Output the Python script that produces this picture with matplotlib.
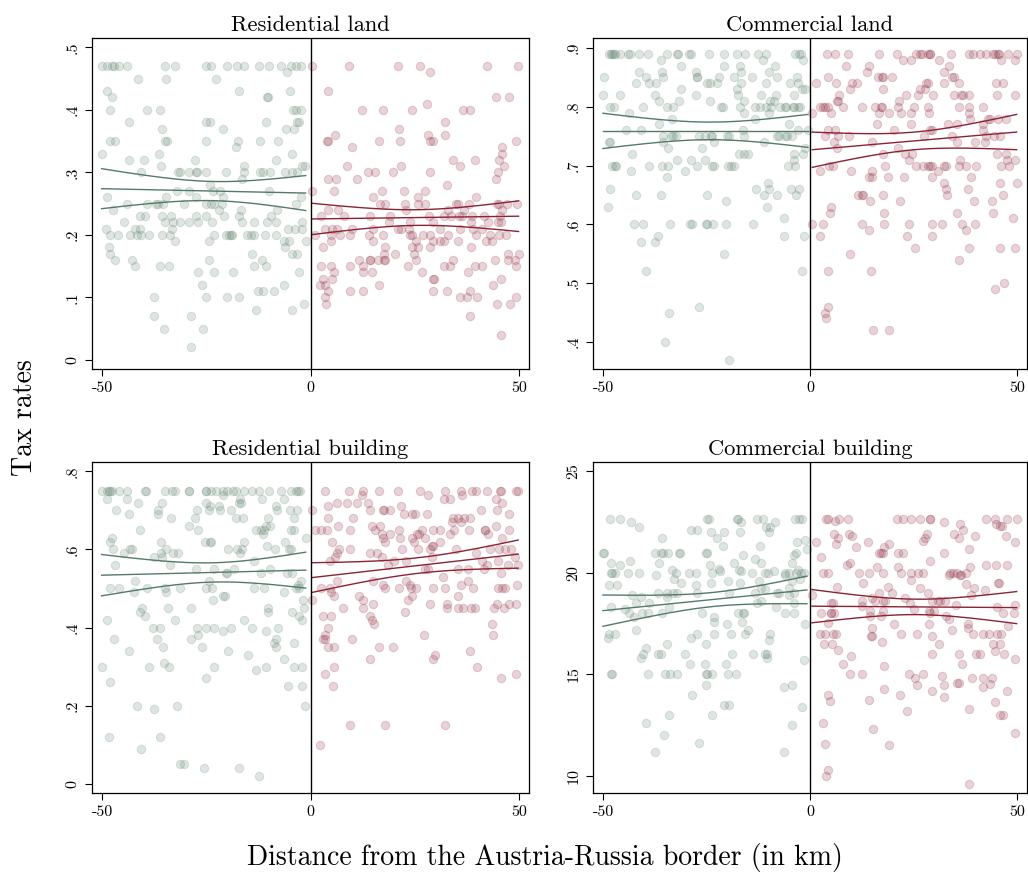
import numpy as np
import matplotlib
matplotlib.use("Agg")
import matplotlib.pyplot as plt

plt.rcParams['font.family'] = ['cmr10', 'DejaVu Serif']
plt.rcParams['mathtext.fontset'] = 'cm'
plt.rcParams['axes.unicode_minus'] = False
plt.rcParams['axes.formatter.use_mathtext'] = True

# ---------------- data: rows of (tax rate, [distances in km]) ----------------
res_land_west = [
    (0.47, [-50.0, -48.8, -47.6, -47.2, -46.0, -44.0, -34.8, -32.4, -25.2, -24.0, -20.0, -17.7, -15.9, -12.3, -10.1, -7.2, -4.7, -3.6, -2.4]),
    (0.46, [-5.7]),
    (0.45, [-41.4, -34.6, -22.6]),
    (0.43, [-48.7, -17.2, -5.0]),
    (0.42, [-47.6, -10.4, -10.2]),
    (0.40, [-48.0, -39.2, -36.1, -4.2, -3.6, -2.4]),
    (0.38, [-43.5, -25.1, -24.2, -10.8, -3.2, -2.8]),
    (0.37, [-35.6, -21.0, -6.0, -4.0]),
    (0.35, [-48.0, -46.8, -34.9, -34.4, -25.2, -17.4, -12.1, -7.8]),
    (0.34, [-17.8]),
    (0.33, [-50.1, -36.4, -4.6]),
    (0.32, [-43.5, -39.9, -27.7, -8.3]),
    (0.31, [-35.8, -16.0, -2.1, -1.4]),
    (0.30, [-40.6, -31.7, -31.2, -29.2, -27.4, -27.2, -25.2, -20.2, -16.1, -12.1, -11.4, -9.8, -6.2, -4.6, -3.2]),
    (0.29, [-16.4]),
    (0.28, [-24.2]),
    (0.27, [-32.0, -29.2, -23.3, -21.8, -10.1]),
    (0.26, [-48.7, -34.6, -27.6, -21.0, -2.4]),
    (0.25, [-44.0, -39.2, -37.0, -36.6, -35.4, -30.4, -25.2, -24.0, -23.2, -21.2, -3.6]),
    (0.24, [-47.4, -22.0, -16.8, -8.0]),
    (0.23, [-41.0, -39.7, -35.7, -33.5, -27.6, -25.2, -20.8, -17.2, -9.6]),
    (0.22, [-44.8, -34.8, -32.9, -31.2, -29.1, -27.1, -23.7, -16.4, -13.5, -10.4, -8.2, -2.0]),
    (0.21, [-49.0, -42.2, -41.0, -33.2, -5.5, -3.8, -2.0]),
    (0.20, [-48.2, -46.1, -43.2, -41.6, -40.6, -38.8, -35.7, -33.8, -23.2, -20.4, -19.6, -19.2, -18.8, -15.2, -14.3, -13.5, -10.9, -8.2]),
    (0.19, [-32.4, -24.4, -6.4, -5.2, -1.2]),
    (0.18, [-48.4, -6.2]),
    (0.17, [-48.1, -14.0, -4.4, -3.2]),
    (0.16, [-46.8, -42.8, -24.3, -11.6]),
    (0.15, [-42.2, -36.1, -34.0, -13.6, -10.8]),
    (0.14, [-26.9, -23.2, -18.5, -2.9]),
    (0.12, [-26.1, -6.5]),
    (0.11, [-12.6, -11.4, -8.9]),
    (0.10, [-37.5, -25.0, -20.0, -17.2]),
    (0.09, [-1.7]),
    (0.08, [-13.1, -4.4]),
    (0.07, [-37.6, -28.8]),
    (0.05, [-35.2, -25.7]),
    (0.02, [-28.8]),
]

res_land_east = [
    (0.47, [0.4, 9.1, 20.9, 26.3, 42.3, 49.7]),
    (0.46, [28.7]),
    (0.43, [4.2]),
    (0.42, [44.3, 47.4]),
    (0.41, [27.8]),
    (0.40, [12.4, 17.4, 24.2, 36.6, 38.2]),
    (0.38, [32.2]),
    (0.37, [21.2]),
    (0.36, [5.9, 28.2, 32.2]),
    (0.35, [4.0, 4.2, 16.3, 21.4, 28.6, 29.2, 49.3]),
    (0.34, [10.0, 45.8]),
    (0.33, [45.9]),
    (0.32, [34.2, 39.3, 45.1]),
    (0.31, [8.7, 21.6, 35.8, 46.2]),
    (0.30, [13.8, 15.5, 19.8, 28.5, 44.8]),
    (0.29, [4.2, 6.1, 11.0, 44.4]),
    (0.28, [32.6]),
    (0.27, [0.4, 5.5, 17.0, 22.4, 27.4]),
    (0.26, [14.9, 25.8, 39.6]),
    (0.25, [16.6, 17.9, 22.6, 25.6, 27.4, 34.7, 35.4, 38.0, 44.6, 45.0, 47.0, 49.4]),
    (0.24, [4.2, 6.5, 22.9, 33.0, 36.8, 45.9]),
    (0.23, [2.4, 7.9, 14.2, 19.0, 28.3, 32.0, 33.6, 35.6, 36.2, 38.6, 41.6, 45.3]),
    (0.22, [18.7, 23.8, 29.2, 38.5, 42.4, 44.8, 45.6]),
    (0.21, [3.4, 5.2, 6.2, 9.8, 15.0, 21.0, 21.7, 23.5, 31.0, 35.7, 38.9, 41.0]),
    (0.20, [1.1, 4.9, 6.9, 9.4, 13.9, 17.4, 23.8, 24.2, 27.0, 28.5, 32.8, 39.6, 42.9, 45.0, 46.8]),
    (0.19, [4.8, 15.0, 25.2, 29.2, 30.9, 31.9, 35.4, 41.9, 43.4]),
    (0.18, [3.0, 17.8, 24.2, 25.7, 28.7, 38.3]),
    (0.17, [17.6, 20.2, 24.7, 47.2, 49.8]),
    (0.16, [11.6, 14.1, 14.3, 16.2, 17.6, 17.9, 25.2, 34.2, 44.2, 47.3, 49.0]),
    (0.15, [2.5, 4.8, 9.5, 12.6, 23.4, 32.0, 33.4, 39.4, 41.0, 49.2]),
    (0.14, [5.6, 12.6, 14.6, 26.6, 37.6]),
    (0.13, [3.0, 5.0, 29.4, 29.6, 45.6]),
    (0.12, [2.3, 3.4, 16.3, 43.7]),
    (0.11, [4.2, 9.5, 12.6, 29.4, 32.7, 38.2]),
    (0.10, [3.4, 35.8, 37.5, 39.9, 49.3]),
    (0.09, [3.7, 44.6, 47.8]),
    (0.07, [38.2]),
    (0.04, [45.6]),
]

com_land_west = [
    (0.89, [-48.5, -48.0, -47.7, -47.4, -47.0, -46.0, -44.0, -43.4, -41.4, -39.2, -34.6, -32.1, -32.0, -29.3, -28.8, -24.4, -20.9, -17.6, -15.7, -12.6, -10.6, -3.6, -2.6, -2.2]),
    (0.88, [-36.0, -11.3, -1.8]),
    (0.87, [-31.2, -20.9, -17.0, -8.5]),
    (0.86, [-41.2, -35.8, -27.6, -16.6, -10.0]),
    (0.85, [-49.8, -39.7, -35.4, -27.4, -27.2, -21.9, -18.4, -14.0, -8.0, -3.2]),
    (0.84, [-42.0, -38.8, -37.3, -24.8, -24.2, -22.5, -16.7, -10.7, -4.9, -3.0]),
    (0.83, [-31.2, -17.6, -2.1, -1.2]),
    (0.82, [-50.0, -46.0, -37.4, -27.6, -17.3, -11.9, -8.2, -3.8]),
    (0.81, [-36.4, -31.6, -24.2, -16.0, -9.8, -8.8]),
    (0.80, [-48.2, -47.4, -40.4, -34.6, -33.0, -21.6, -21.0, -17.0, -13.4, -12.0, -10.6, -9.4, -7.2, -6.2, -5.8, -4.2, -3.8, -3.0, -2.4]),
    (0.79, [-43.7, -16.0, -10.0]),
    (0.78, [-33.3, -13.4]),
    (0.77, [-36.4, -5.1]),
    (0.76, [-44.5, -40.8, -16.3, -3.0, -0.6]),
    (0.75, [-35.4, -33.7, -33.1, -32.4, -26.9, -25.3, -24.0, -23.7, -20.0, -19.6, -16.0, -8.0, -7.6, -6.0, -5.5, -4.4]),
    (0.74, [-48.5, -48.4, -35.6, -23.1, -11.1]),
    (0.73, [-34.4, -26.0, -1.2]),
    (0.72, [-43.1, -17.1, -16.0, -15.0, -3.9, -1.8]),
    (0.71, [-32.2, -28.8, -25.5, -4.0]),
    (0.70, [-47.7, -47.1, -46.8, -39.0, -35.7, -34.4, -27.2, -23.6, -23.2, -19.9, -19.2, -18.4, -5.3, -3.7]),
    (0.69, [-43.3, -30.2]),
    (0.68, [-34.6]),
    (0.67, [-10.1]),
    (0.66, [-48.2, -13.0, -10.0, -4.6, -2.8]),
    (0.65, [-42.0, -36.0, -24.9, -11.1, -8.1, -3.4]),
    (0.64, [-20.2]),
    (0.63, [-48.8, -10.4]),
    (0.61, [-6.3]),
    (0.60, [-42.6, -40.4, -33.9, -28.9, -28.6, -25.2, -25.0, -23.5, -20.4, -13.8]),
    (0.58, [-36.6, -6.4, -1.6]),
    (0.57, [-40.8, -37.5]),
    (0.55, [-20.8]),
    (0.52, [-39.5, -2.1]),
    (0.46, [-26.8]),
    (0.45, [-34.1]),
    (0.40, [-35.0]),
    (0.37, [-19.6]),
]

com_land_east = [
    (0.89, [4.0, 6.1, 9.1, 16.5, 21.0, 25.6, 26.4, 26.9, 28.4, 28.8, 29.0, 33.9, 38.4, 39.2, 41.0, 42.4, 44.2, 44.6, 45.2, 45.6, 47.6, 49.8]),
    (0.88, [22.4, 24.3, 31.0, 46.0, 49.4]),
    (0.87, [8.7, 14.1, 33.4]),
    (0.86, [13.8, 32.2]),
    (0.85, [4.2, 16.4, 17.2, 17.6, 19.8, 34.1, 34.6]),
    (0.84, [1.4, 6.2, 10.1, 11.2, 28.0, 28.3, 32.3, 35.9, 44.8, 46.4]),
    (0.83, [9.5, 17.6, 26.6, 27.6]),
    (0.82, [7.0, 23.0, 26.0, 29.7, 34.6, 36.4, 36.8, 38.3, 45.0, 49.4]),
    (0.81, [6.4, 6.7, 21.5]),
    (0.80, [2.4, 3.0, 3.6, 4.4, 8.0, 12.5, 15.6, 17.0, 17.3, 21.2, 25.1, 28.4, 35.9, 38.2, 41.8]),
    (0.79, [0.5, 5.1, 16.7, 19.0, 21.9, 24.3, 28.7, 38.2]),
    (0.78, [38.6, 43.0, 43.4, 45.2, 47.2]),
    (0.77, [16.1, 24.3, 33.3, 35.4, 41.7]),
    (0.76, [4.2, 5.9, 20.1, 28.8, 29.3, 41.6]),
    (0.75, [3.5, 6.6, 9.4, 27.4, 34.2, 42.5, 44.4, 45.8]),
    (0.74, [5.7, 15.0, 35.4, 39.7, 42.2]),
    (0.73, [6.4, 21.2]),
    (0.72, [17.6, 22.9, 24.6, 45.0, 47.3]),
    (0.71, [23.8, 36.1, 47.4, 49.3]),
    (0.70, [4.6, 5.6, 18.1, 25.6, 27.1, 28.4, 29.0, 29.4, 32.2, 32.8, 35.8, 37.7, 39.9, 46.0, 47.9]),
    (0.69, [2.4, 9.9, 15.0, 30.9]),
    (0.68, [14.2, 15.0, 18.7, 22.6, 29.4, 38.9]),
    (0.67, [32.2, 45.7, 49.8]),
    (0.66, [32.8, 38.1]),
    (0.65, [11.6, 12.5, 12.8, 17.5, 33.0, 46.6]),
    (0.64, [14.4, 21.6, 39.4, 43.8]),
    (0.63, [5.0]),
    (0.62, [4.8, 17.8, 35.4, 44.2]),
    (0.61, [48.9]),
    (0.60, [0.5, 3.0, 12.6, 17.8, 23.8, 29.4, 31.8, 36.6, 39.8]),
    (0.59, [14.2, 37.6]),
    (0.58, [2.4, 23.4, 29.4]),
    (0.56, [25.3, 38.4, 45.7, 49.3]),
    (0.55, [9.6]),
    (0.54, [35.9]),
    (0.52, [4.2, 14.6]),
    (0.50, [46.7]),
    (0.49, [44.6]),
    (0.46, [4.2]),
    (0.45, [3.6]),
    (0.44, [3.8]),
    (0.42, [15.2, 18.9]),
]

res_bldg_west = [
    (0.75, [-50.0, -48.8, -48.4, -48.0, -47.6, -46.0, -44.0, -39.8, -39.4, -34.8, -33.2, -32.4, -29.2, -29.1, -25.2, -25.0, -24.0, -22.7, -21.0, -20.0, -18.6, -17.8, -15.9, -14.0, -12.3, -10.1, -7.2, -4.7, -3.6, -3.0, -2.6]),
    (0.74, [-21.0]),
    (0.73, [-48.8, -44.0, -17.0, -11.6, -6.3]),
    (0.72, [-41.4, -35.6, -25.0, -17.2, -16.8]),
    (0.71, [-24.2, -22.0, -8.4]),
    (0.70, [-46.7, -36.7, -27.3, -24.4, -21.8, -19.2, -8.0, -5.0, -3.2]),
    (0.69, [-43.5, -36.5]),
    (0.68, [-33.5, -27.7, -17.8, -16.2, -10.3, -4.1]),
    (0.66, [-29.2, -10.8, -9.7]),
    (0.65, [-41.0, -27.1, -13.0, -12.0, -11.2, -4.8, -4.0]),
    (0.64, [-11.4]),
    (0.63, [-47.6, -1.2]),
    (0.62, [-48.2, -35.8, -25.4, -24.2, -23.9, -16.0, -6.1]),
    (0.61, [-10.5]),
    (0.60, [-47.4, -43.2, -42.8, -34.6, -19.9, -17.6, -16.4, -8.6, -5.2, -4.8]),
    (0.59, [-44.8, -35.8, -33.0, -31.7, -17.0]),
    (0.58, [-37.6, -35.6]),
    (0.57, [-13.6]),
    (0.56, [-46.8, -33.8]),
    (0.55, [-27.6, -23.2, -18.3, -9.7]),
    (0.54, [-20.3, -20.0, -11.9, -5.8, -4.4]),
    (0.52, [-42.0, -24.4, -2.4]),
    (0.51, [-3.0]),
    (0.50, [-48.0, -46.0, -39.2, -34.8, -31.2, -25.2, -23.7, -13.6, -11.1, -3.6, -2.9]),
    (0.49, [-42.3, -34.6, -6.5]),
    (0.48, [-21.0, -20.6]),
    (0.47, [-23.3, -1.8]),
    (0.45, [-40.5, -34.1, -28.8, -10.2, -1.6]),
    (0.44, [-41.0, -10.2, -4.4]),
    (0.43, [-39.6, -2.8]),
    (0.42, [-48.9, -32.4, -16.1, -2.2]),
    (0.40, [-37.7, -36.1, -27.2, -25.0, -23.2, -19.0, -14.1, -7.8]),
    (0.39, [-20.9, -10.6]),
    (0.38, [-26.9]),
    (0.37, [-47.2, -36.8, -28.7, -8.2]),
    (0.36, [-8.9, -4.0]),
    (0.35, [-35.4, -26.1, -8.2]),
    (0.34, [-43.5, -19.7]),
    (0.33, [-15.1]),
    (0.32, [-6.4]),
    (0.31, [-35.1]),
    (0.30, [-50.1, -38.8, -34.0, -23.2, -10.8, -4.0, -2.0]),
    (0.29, [-13.1]),
    (0.27, [-25.2]),
    (0.26, [-48.2]),
    (0.25, [-5.4, -2.0]),
    (0.20, [-41.6, -32.0, -1.3]),
    (0.19, [-37.5]),
    (0.12, [-48.4, -36.0]),
    (0.09, [-40.6]),
    (0.05, [-31.4, -30.4]),
    (0.04, [-25.6, -17.2]),
    (0.02, [-12.5]),
]

res_bldg_east = [
    (0.75, [3.4, 9.1, 12.6, 16.3, 20.9, 26.3, 32.2, 35.9, 38.6, 39.5, 42.3, 45.4, 45.6, 49.1, 49.7]),
    (0.74, [12.3, 28.2, 36.3]),
    (0.73, [32.0, 33.4, 44.3]),
    (0.72, [6.2, 8.7, 11.0, 13.8, 45.8]),
    (0.71, [4.2, 21.6]),
    (0.70, [0.4, 14.1, 17.4, 17.6, 18.9, 40.9, 44.6]),
    (0.69, [22.4, 24.3, 25.0, 27.8, 47.4]),
    (0.68, [4.2, 10.1, 34.0, 35.2, 36.7, 38.2]),
    (0.67, [33.8, 35.9]),
    (0.66, [6.6, 14.7, 16.7, 44.3]),
    (0.65, [1.0, 2.4, 4.0, 9.4, 15.4, 21.2, 26.6, 29.2, 30.9, 34.3, 38.0, 41.7, 41.8, 47.4]),
    (0.64, [17.2, 19.0, 25.5, 26.0, 33.4, 42.5]),
    (0.63, [17.3, 21.4, 24.2, 27.4, 45.9]),
    (0.62, [5.2, 17.7, 24.7, 30.9]),
    (0.61, [29.0, 29.4]),
    (0.60, [6.7, 9.4, 21.8, 25.7, 28.7, 34.7, 43.0, 45.0, 46.6, 47.9]),
    (0.59, [6.3, 14.2, 15.9, 39.5]),
    (0.58, [5.9, 17.0, 29.0, 49.0]),
    (0.57, [4.7, 20.0, 22.8, 41.0, 44.9]),
    (0.56, [18.6, 42.2, 47.2, 49.6]),
    (0.55, [27.4, 28.2, 35.4, 37.7, 41.6]),
    (0.54, [45.6]),
    (0.53, [31.8]),
    (0.52, [6.2, 15.0, 22.8, 37.8]),
    (0.51, [17.4, 23.8, 35.9, 49.4]),
    (0.50, [2.4, 4.6, 17.7, 21.1, 24.0, 25.2, 29.3, 32.1, 39.0, 44.8, 45.8, 46.5]),
    (0.49, [4.8]),
    (0.48, [5.7, 11.6, 24.2, 35.4]),
    (0.47, [0.4, 12.6, 23.2]),
    (0.46, [14.9, 28.6, 32.7, 44.6, 47.4, 49.2]),
    (0.45, [7.8, 12.5, 32.6, 35.3, 36.6, 38.3, 39.3, 44.0, 46.3]),
    (0.44, [22.5]),
    (0.43, [3.0, 4.9, 14.2]),
    (0.42, [14.6]),
    (0.41, [15.2, 43.4]),
    (0.40, [4.2]),
    (0.38, [3.5, 27.1, 43.7]),
    (0.37, [3.0, 3.5, 9.8]),
    (0.35, [4.2, 5.5, 16.4, 19.8]),
    (0.34, [38.2]),
    (0.33, [29.7]),
    (0.32, [14.1, 29.4]),
    (0.30, [5.6, 39.9]),
    (0.28, [3.4, 49.3]),
    (0.27, [45.6]),
    (0.25, [5.4]),
    (0.15, [9.5, 17.8, 32.1]),
    (0.10, [2.3]),
]

com_bldg_west = [
    (22.65, [-48.4, -45.8, -24.8, -24.4, -17.6, -17.3, -12.8, -11.3, -3.6, -2.6, -2.1]),
    (22.5, [-43.3, -16.6, -8.4]),
    (22.25, [-41.3, -10.6, -9.8]),
    (22.1, [-27.4, -28.8]),
    (22.0, [-24.0, -20.9, -17.0, -10.0]),
    (21.7, [-35.7, -22.4]),
    (21.6, [-1.3]),
    (21.5, [-3.1]),
    (21.3, [-21.0, -12.0]),
    (21.2, [-0.8]),
    (21.0, [-50.0, -49.8, -37.4, -36.0, -35.6, -34.4, -31.6, -31.3, -25.2, -25.0, -3.4]),
    (20.9, [-16.1, -4.0]),
    (20.7, [-13.4]),
    (20.6, [-43.4]),
    (20.5, [-11.9, -4.4, -48.0, -36.5, -18.4]),
    (20.4, [-46.0, -24.1]),
    (20.2, [-22.0]),
    (20.15, [-33.4, -17.1, -2.9]),
    (20.1, [-21.8, -16.7, -8.8]),
    (20.0, [-48.0, -47.7, -47.2, -43.9, -41.4, -32.4, -29.2, -27.6, -23.7, -14.0, -10.8, -10.1, -6.1, -5.2, -3.4, -2.3, -1.6]),
    (19.9, [-37.3, -6.0]),
    (19.7, [-32.8, -2.4]),
    (19.6, [-19.8, -12.3, -4.4]),
    (19.5, [-31.2, -24.0, -17.0]),
    (19.4, [-48.5, -46.6, -27.6]),
    (19.25, [-11.8, -5.0]),
    (19.2, [-10.8]),
    (19.0, [-36.6, -34.6, -33.2, -32.1, -27.2, -19.7, -13.4, -8.0, -7.6, -3.9]),
    (18.9, [-43.1, -5.0]),
    (18.8, [-40.8, -34.6]),
    (18.6, [-11.9]),
    (18.5, [-42.0, -38.8, -12.9, -4.0]),
    (18.3, [-48.1, -34.0, -8.2]),
    (18.2, [-44.6]),
    (18.0, [-43.8, -40.5, -39.2, -35.8, -26.1, -17.4, -16.1, -16.0, -6.0, -4.0]),
    (17.85, [-42.5, -23.1]),
    (17.6, [-23.2, -16.4]),
    (17.5, [-20.0, -1.2]),
    (17.2, [-14.9, -42.0]),
    (17.0, [-48.6, -47.0, -27.2, -23.2, -19.1, -15.7, -9.6]),
    (16.8, [-48.8, -28.8]),
    (16.7, [-10.0]),
    (16.5, [-34.6, -25.2]),
    (16.3, [-39.5]),
    (16.0, [-40.4, -36.6, -36.1, -30.3, -18.8, -13.7, -11.0, -10.5]),
    (15.8, [-40.8, -10.4]),
    (15.7, [-1.6]),
    (15.5, [-28.9, -25.5, -20.4]),
    (15.0, [-48.0, -47.9, -39.1, -35.0, -33.8, -32.2, -25.1, -24.8, -23.6, -19.9, -18.0]),
    (14.5, [-25.1, -4.5]),
    (14.4, [-6.3]),
    (14.0, [-28.6]),
    (13.5, [-20.8, -19.6]),
    (13.4, [-2.0]),
    (13.0, [-34.1, -23.8]),
    (12.6, [-39.7]),
    (12.5, [-4.3]),
    (12.0, [-35.2]),
    (11.6, [-26.8]),
    (11.2, [-6.3, -37.5]),
]

com_bldg_east = [
    (22.65, [3.8, 4.2, 7.0, 9.1, 21.0, 22.4, 24.3, 26.4, 28.8, 28.9, 42.4, 44.6, 47.5, 49.8]),
    (22.55, [5.9]),
    (22.5, [32.2]),
    (22.4, [36.2, 44.8]),
    (22.3, [45.8, 46.2]),
    (22.1, [36.9]),
    (21.9, [5.8, 9.4, 28.2, 34.8]),
    (21.8, [10.2, 39.7, 47.3]),
    (21.7, [6.6, 27.7, 35.9]),
    (21.55, [27.3]),
    (21.5, [1.3, 13.9, 49.3]),
    (21.4, [6.2, 19.0]),
    (21.25, [11.0, 17.8]),
    (21.2, [38.2]),
    (21.0, [16.5, 17.0, 17.6, 21.2, 22.5, 32.2]),
    (20.8, [2.5]),
    (20.6, [28.8]),
    (20.5, [9.5]),
    (20.4, [8.8, 42.4, 44.8, 47.4]),
    (20.3, [16.1, 21.2, 38.6]),
    (20.0, [3.0, 4.2, 11.7, 14.1, 17.5, 21.8, 24.3, 26.0, 27.3, 33.8, 34.5, 35.4, 37.7]),
    (19.9, [33.4, 36.1, 36.3]),
    (19.65, [24.3]),
    (19.5, [12.8, 45.3, 45.6]),
    (19.45, [37.6]),
    (19.3, [6.5, 18.8]),
    (19.25, [26.6, 39.6]),
    (19.15, [42.2]),
    (19.0, [16.5, 19.8, 28.5]),
    (18.9, [0.4, 38.9]),
    (18.75, [15.0, 22.9]),
    (18.6, [12.6, 15.7, 17.6, 18.1, 29.3, 30.9, 31.4, 32.6]),
    (18.5, [4.9, 5.6, 24.0]),
    (18.4, [35.2, 49.4]),
    (18.35, [12.6]),
    (18.3, [45.0]),
    (18.2, [25.0]),
    (18.1, [14.5, 17.6, 29.8, 28.7]),
    (18.0, [2.6, 4.9, 5.1, 5.7, 29.0, 46.4, 49.2]),
    (17.9, [14.5, 17.1, 32.8]),
    (17.75, [33.4]),
    (17.55, [4.3]),
    (17.5, [28.7, 20.2]),
    (17.48, [38.1]),
    (17.4, [47.8]),
    (17.3, [38.1, 15.0]),
    (17.2, [34.2]),
    (17.0, [2.4, 3.5, 5.6, 6.2, 21.9, 25.8, 39.3, 41.6, 43.1, 45.0, 46.0]),
    (16.9, [14.6, 15.0, 29.4]),
    (16.6, [17.3]),
    (16.5, [3.4, 5.2, 31.1, 44.1, 45.8]),
    (16.2, [6.6]),
    (16.15, [44.6]),
    (16.0, [29.3, 35.8, 39.9, 41.0, 46.7]),
    (15.9, [9.9]),
    (15.75, [49.3]),
    (15.5, [8.0, 36.6]),
    (15.4, [17.8]),
    (15.0, [9.6, 12.6, 23.8, 27.1]),
    (14.9, [31.8]),
    (14.8, [25.2, 39.0, 41.8, 43.8]),
    (14.6, [35.4, 35.8]),
    (14.55, [43.3]),
    (14.5, [25.8, 32.2]),
    (14.4, [41.8]),
    (14.3, [17.8]),
    (14.2, [29.4, 47.4]),
    (14.0, [4.2, 21.6]),
    (13.9, [32.2]),
    (13.75, [14.1]),
    (13.7, [4.8]),
    (13.65, [44.7]),
    (13.3, [38.3]),
    (13.2, [23.4]),
    (13.0, [45.7, 46.6]),
    (12.6, [3.0]),
    (12.3, [15.1]),
    (12.1, [49.3]),
    (11.55, [3.6]),
    (11.5, [18.9]),
    (10.3, [4.2]),
    (10.0, [3.8]),
    (9.6, [38.2]),
]

# fitted line (value at near / far end of each side) and 95% CI half-widths (ends and middle)
fit_center = {
    'res_land': ([0.274, 0.267], [0.2256, 0.230]),
    'com_land': ([0.759, 0.759], [0.727, 0.757]),
    'res_bldg': ([0.534, 0.547], [0.528, 0.588]),
    'com_bldg': ([18.14, 19.16], [18.36, 18.29]),
}
fit_halfwidth = {
    'res_land': ([0.032, 0.0155, 0.028], [0.025, 0.0125, 0.0245]),
    'com_land': ([0.030, 0.015, 0.028], [0.030, 0.015, 0.030]),
    'res_bldg': ([0.053, 0.025, 0.046], [0.038, 0.020, 0.036]),
    'com_bldg': ([0.77, 0.35, 0.68], [0.82, 0.38, 0.79]),
}

titles = ['Residential land', 'Commercial land', 'Residential building', 'Commercial building']
keys = ['res_land', 'com_land', 'res_bldg', 'com_bldg']
west_rows = [res_land_west, com_land_west, res_bldg_west, com_bldg_west]
east_rows = [res_land_east, com_land_east, res_bldg_east, com_bldg_east]
ytick_vals = [[0, 0.1, 0.2, 0.3, 0.4, 0.5], [0.4, 0.5, 0.6, 0.7, 0.8, 0.9],
              [0, 0.2, 0.4, 0.6, 0.8], [10, 15, 20, 25]]
ytick_labels = [['0', '.1', '.2', '.3', '.4', '.5'], ['.4', '.5', '.6', '.7', '.8', '.9'],
                ['0', '.2', '.4', '.6', '.8'], ['10', '15', '20', '25']]
ylims = [(-0.0144, 0.515), (0.354, 0.917), (-0.024, 0.824), (9.16, 25.46)]
xtick_vals = [-50, 0, 50]
xtick_labels = ['-50', '0', '50']

WEST_PT = '#5f826e'
EAST_PT = '#8c283c'
WEST_LN = '#557a6a'
EAST_LN = '#8b2335'


def expand(rows):
    xs, ys = [], []
    for y, xl in rows:
        xs.extend(xl)
        ys.extend([y] * len(xl))
    return np.array(xs, float), np.array(ys, float)


def draw_fit(ax, x, center, half, color):
    lo, hi = x.min(), x.max()
    xx = np.linspace(lo, hi, 200)
    c = center[0] + (center[1] - center[0]) * (xx - lo) / (hi - lo)
    p = np.polyfit([lo, (lo + hi) / 2, hi], np.square(half), 2)
    h = np.sqrt(np.clip(np.polyval(p, xx), 0, None))
    for yy in (c + h, c, c - h):
        ax.plot(xx, yy, color=color, lw=1.0, zorder=3)


fig = plt.figure(figsize=(10.28, 8.73), dpi=100)
W, H = 1028.0, 873.0
boxes = [(92, 38, 529, 369), (593, 38, 1027, 369), (92, 462, 529, 793), (593, 462, 1027, 793)]

for i in range(4):
    l, t, r, b = boxes[i]
    ax = fig.add_axes([l / W, 1 - b / H, (r - l) / W, (b - t) / H])
    xw, yw = expand(west_rows[i])
    xe, ye = expand(east_rows[i])
    ax.scatter(xw, yw, s=36, color=WEST_PT, alpha=0.2, linewidths=0.8, zorder=2)
    ax.scatter(xe, ye, s=36, color=EAST_PT, alpha=0.2, linewidths=0.8, zorder=2)
    cw, ce = fit_center[keys[i]]
    hw, he = fit_halfwidth[keys[i]]
    draw_fit(ax, xw, cw, hw, WEST_LN)
    draw_fit(ax, xe, ce, he, EAST_LN)
    ax.axvline(0, color='black', lw=1.0, zorder=4)
    ax.set_xlim(-52.4, 52.3)
    ax.set_ylim(*ylims[i])
    ax.set_xticks(xtick_vals)
    ax.set_xticklabels(xtick_labels)
    ax.set_yticks(ytick_vals[i])
    ax.set_yticklabels(ytick_labels[i], rotation=90, va='center')
    ax.tick_params(direction='out', length=5, width=0.8, labelsize=11.5, pad=4,
                   top=False, right=False)
    for sp in ax.spines.values():
        sp.set_linewidth(0.9)
        sp.set_color('black')
    ax.set_title(titles[i], fontsize=16.2, pad=5)

fig.text(545 / W, 1 - 857 / H, 'Distance from the Austria-Russia border (in km)',
         ha='center', va='center', fontsize=20)
fig.text(25 / W, 1 - 418 / H, 'Tax rates', ha='center', va='center', rotation=90, fontsize=20)

fig.savefig('out.png', dpi=100)
